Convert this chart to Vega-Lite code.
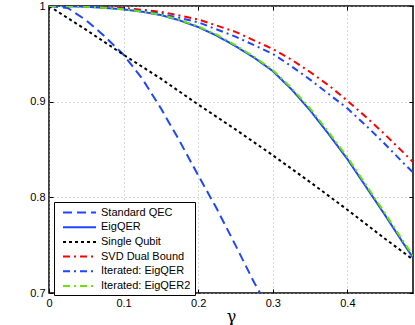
{
  "$schema": "https://vega.github.io/schema/vega-lite/v6.json",
  "width": 364,
  "height": 287,
  "autosize": {"type": "none"},
  "padding": {"left": 49, "top": 6, "right": 2, "bottom": 32},
  "background": "white",
  "config": {
    "view": {"stroke": "#000000", "strokeWidth": 1.5},
    "font": "Liberation Sans"
  },
  "data": {
    "values": [
      {"series": "Standard QEC", "gamma": 0, "F": 1.0},
      {"series": "Standard QEC", "gamma": 0.025, "F": 0.998},
      {"series": "Standard QEC", "gamma": 0.05, "F": 0.985},
      {"series": "Standard QEC", "gamma": 0.075, "F": 0.968},
      {"series": "Standard QEC", "gamma": 0.1, "F": 0.949},
      {"series": "Standard QEC", "gamma": 0.125, "F": 0.924},
      {"series": "Standard QEC", "gamma": 0.15, "F": 0.893},
      {"series": "Standard QEC", "gamma": 0.175, "F": 0.859},
      {"series": "Standard QEC", "gamma": 0.2, "F": 0.823},
      {"series": "Standard QEC", "gamma": 0.225, "F": 0.788},
      {"series": "Standard QEC", "gamma": 0.25, "F": 0.75},
      {"series": "Standard QEC", "gamma": 0.275, "F": 0.711},
      {"series": "Standard QEC", "gamma": 0.283, "F": 0.7},

      {"series": "EigQER", "gamma": 0, "F": 1.0},
      {"series": "EigQER", "gamma": 0.025, "F": 0.9998},
      {"series": "EigQER", "gamma": 0.05, "F": 0.9992},
      {"series": "EigQER", "gamma": 0.075, "F": 0.998},
      {"series": "EigQER", "gamma": 0.1, "F": 0.9965},
      {"series": "EigQER", "gamma": 0.125, "F": 0.994},
      {"series": "EigQER", "gamma": 0.15, "F": 0.9905},
      {"series": "EigQER", "gamma": 0.175, "F": 0.985},
      {"series": "EigQER", "gamma": 0.2, "F": 0.978},
      {"series": "EigQER", "gamma": 0.225, "F": 0.969},
      {"series": "EigQER", "gamma": 0.25, "F": 0.958},
      {"series": "EigQER", "gamma": 0.275, "F": 0.946},
      {"series": "EigQER", "gamma": 0.3, "F": 0.932},
      {"series": "EigQER", "gamma": 0.325, "F": 0.913},
      {"series": "EigQER", "gamma": 0.35, "F": 0.891},
      {"series": "EigQER", "gamma": 0.375, "F": 0.866},
      {"series": "EigQER", "gamma": 0.4, "F": 0.84},
      {"series": "EigQER", "gamma": 0.425, "F": 0.811},
      {"series": "EigQER", "gamma": 0.45, "F": 0.782},
      {"series": "EigQER", "gamma": 0.475, "F": 0.752},
      {"series": "EigQER", "gamma": 0.488, "F": 0.737},

      {"series": "Single Qubit", "gamma": 0, "F": 1.0},
      {"series": "Single Qubit", "gamma": 0.05, "F": 0.975},
      {"series": "Single Qubit", "gamma": 0.1, "F": 0.949},
      {"series": "Single Qubit", "gamma": 0.15, "F": 0.924},
      {"series": "Single Qubit", "gamma": 0.2, "F": 0.897},
      {"series": "Single Qubit", "gamma": 0.25, "F": 0.871},
      {"series": "Single Qubit", "gamma": 0.3, "F": 0.844},
      {"series": "Single Qubit", "gamma": 0.35, "F": 0.816},
      {"series": "Single Qubit", "gamma": 0.4, "F": 0.787},
      {"series": "Single Qubit", "gamma": 0.45, "F": 0.757},
      {"series": "Single Qubit", "gamma": 0.488, "F": 0.735},

      {"series": "SVD Dual Bound", "gamma": 0, "F": 1.0},
      {"series": "SVD Dual Bound", "gamma": 0.05, "F": 0.9998},
      {"series": "SVD Dual Bound", "gamma": 0.1, "F": 0.998},
      {"series": "SVD Dual Bound", "gamma": 0.15, "F": 0.994},
      {"series": "SVD Dual Bound", "gamma": 0.2, "F": 0.986},
      {"series": "SVD Dual Bound", "gamma": 0.25, "F": 0.973},
      {"series": "SVD Dual Bound", "gamma": 0.3, "F": 0.955},
      {"series": "SVD Dual Bound", "gamma": 0.325, "F": 0.944},
      {"series": "SVD Dual Bound", "gamma": 0.35, "F": 0.931},
      {"series": "SVD Dual Bound", "gamma": 0.375, "F": 0.917},
      {"series": "SVD Dual Bound", "gamma": 0.4, "F": 0.901},
      {"series": "SVD Dual Bound", "gamma": 0.425, "F": 0.884},
      {"series": "SVD Dual Bound", "gamma": 0.45, "F": 0.866},
      {"series": "SVD Dual Bound", "gamma": 0.475, "F": 0.847},
      {"series": "SVD Dual Bound", "gamma": 0.488, "F": 0.837},

      {"series": "Iterated: EigQER", "gamma": 0, "F": 1.0},
      {"series": "Iterated: EigQER", "gamma": 0.05, "F": 0.9997},
      {"series": "Iterated: EigQER", "gamma": 0.1, "F": 0.997},
      {"series": "Iterated: EigQER", "gamma": 0.15, "F": 0.992},
      {"series": "Iterated: EigQER", "gamma": 0.2, "F": 0.983},
      {"series": "Iterated: EigQER", "gamma": 0.25, "F": 0.968},
      {"series": "Iterated: EigQER", "gamma": 0.3, "F": 0.95},
      {"series": "Iterated: EigQER", "gamma": 0.325, "F": 0.937},
      {"series": "Iterated: EigQER", "gamma": 0.35, "F": 0.923},
      {"series": "Iterated: EigQER", "gamma": 0.375, "F": 0.908},
      {"series": "Iterated: EigQER", "gamma": 0.4, "F": 0.893},
      {"series": "Iterated: EigQER", "gamma": 0.425, "F": 0.875},
      {"series": "Iterated: EigQER", "gamma": 0.45, "F": 0.856},
      {"series": "Iterated: EigQER", "gamma": 0.475, "F": 0.836},
      {"series": "Iterated: EigQER", "gamma": 0.488, "F": 0.826},

      {"series": "Iterated: EigQER2", "gamma": 0, "F": 1.0},
      {"series": "Iterated: EigQER2", "gamma": 0.025, "F": 0.9998},
      {"series": "Iterated: EigQER2", "gamma": 0.05, "F": 0.9992},
      {"series": "Iterated: EigQER2", "gamma": 0.075, "F": 0.998},
      {"series": "Iterated: EigQER2", "gamma": 0.1, "F": 0.9966},
      {"series": "Iterated: EigQER2", "gamma": 0.125, "F": 0.9942},
      {"series": "Iterated: EigQER2", "gamma": 0.15, "F": 0.9908},
      {"series": "Iterated: EigQER2", "gamma": 0.175, "F": 0.9855},
      {"series": "Iterated: EigQER2", "gamma": 0.2, "F": 0.9787},
      {"series": "Iterated: EigQER2", "gamma": 0.225, "F": 0.97},
      {"series": "Iterated: EigQER2", "gamma": 0.25, "F": 0.959},
      {"series": "Iterated: EigQER2", "gamma": 0.275, "F": 0.947},
      {"series": "Iterated: EigQER2", "gamma": 0.3, "F": 0.933},
      {"series": "Iterated: EigQER2", "gamma": 0.325, "F": 0.9145},
      {"series": "Iterated: EigQER2", "gamma": 0.35, "F": 0.893},
      {"series": "Iterated: EigQER2", "gamma": 0.375, "F": 0.868},
      {"series": "Iterated: EigQER2", "gamma": 0.4, "F": 0.842},
      {"series": "Iterated: EigQER2", "gamma": 0.425, "F": 0.813},
      {"series": "Iterated: EigQER2", "gamma": 0.45, "F": 0.784},
      {"series": "Iterated: EigQER2", "gamma": 0.475, "F": 0.754},
      {"series": "Iterated: EigQER2", "gamma": 0.488, "F": 0.739}
    ]
  },
  "layer": [
    {
      "mark": {"type": "line", "strokeWidth": 2, "clip": true},
      "encoding": {
        "x": {
          "field": "gamma",
          "type": "quantitative",
          "scale": {"domain": [0, 0.488], "nice": false, "zero": false},
          "axis": {
            "title": "γ",
            "titleFont": "DejaVu Serif",
            "titleFontSize": 16,
            "titleFontWeight": "normal",
            "titleColor": "#000000",
            "titlePadding": 0,
            "values": [0, 0.1, 0.2, 0.3, 0.4],
            "format": "~g",
            "labelFontSize": 11,
            "labelColor": "#000000",
            "labelPadding": 8,
            "tickSize": -4,
            "tickColor": "#000000",
            "domain": false,
            "grid": true,
            "gridDash": [1, 3],
            "gridColor": "#b0b0b0",
            "labelFlush": false
          }
        },
        "y": {
          "field": "F",
          "type": "quantitative",
          "scale": {"domain": [0.7, 1], "nice": false, "zero": false},
          "axis": {
            "title": null,
            "values": [0.7, 0.8, 0.9, 1],
            "format": "~g",
            "labelFontSize": 11,
            "labelColor": "#000000",
            "labelPadding": 8,
            "tickSize": -4,
            "tickColor": "#000000",
            "domain": false,
            "grid": true,
            "gridDash": [1, 3],
            "gridColor": "#b0b0b0",
            "labelFlush": false
          }
        },
        "color": {
          "field": "series",
          "type": "nominal",
          "scale": {
            "domain": ["Standard QEC", "EigQER", "Single Qubit", "SVD Dual Bound", "Iterated: EigQER", "Iterated: EigQER2"],
            "range": ["#1f45ff", "#1f45ff", "#000000", "#ff0000", "#1f45ff", "#66e600"]
          },
          "legend": {
            "title": null,
            "orient": "none",
            "legendX": 5,
            "legendY": 196,
            "direction": "vertical",
            "symbolType": "M-0.27,0H5.73",
            "symbolSize": 121,
            "symbolStrokeWidth": 2,
            "labelFontSize": 11,
            "labelColor": "#000000",
            "labelOffset": 30,
            "rowPadding": 2.7,
            "padding": 4,
            "strokeColor": "#000000",
            "fillColor": "#ffffff",
            "cornerRadius": 0
          }
        },
        "strokeDash": {
          "field": "series",
          "type": "nominal",
          "scale": {
            "domain": ["Standard QEC", "EigQER", "Single Qubit", "SVD Dual Bound", "Iterated: EigQER", "Iterated: EigQER2"],
            "range": [[9, 5], [1, 0], [3, 3], [7, 4, 2, 4], [7, 4, 2, 4], [7, 4, 2, 4]]
          }
        }
      }
    },
    {
      "mark": {"type": "line", "strokeOpacity": 0, "clip": true},
      "encoding": {
        "x": {
          "field": "gamma",
          "type": "quantitative",
          "axis": {
            "orient": "top",
            "title": null,
            "values": [0, 0.1, 0.2, 0.3, 0.4],
            "labels": false,
            "tickSize": -4,
            "tickColor": "#000000",
            "domain": false,
            "grid": false
          }
        },
        "y": {
          "field": "F",
          "type": "quantitative",
          "axis": {
            "orient": "right",
            "title": null,
            "values": [0.7, 0.8, 0.9, 1],
            "labels": false,
            "tickSize": -4,
            "tickColor": "#000000",
            "domain": false,
            "grid": false
          }
        },
        "detail": {"field": "series", "type": "nominal"}
      }
    }
  ],
  "resolve": {"axis": {"x": "independent", "y": "independent"}}
}
